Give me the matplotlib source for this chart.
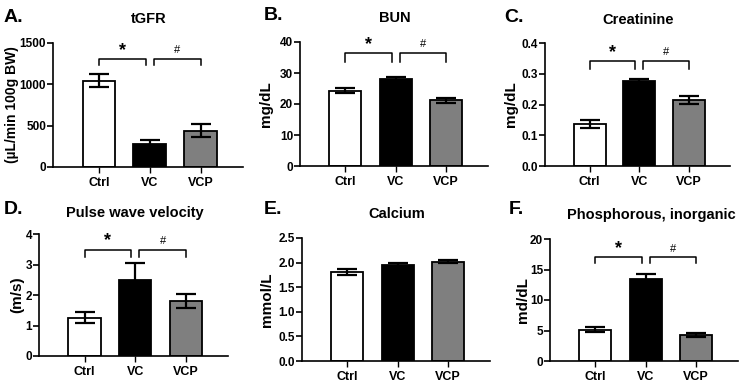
import numpy as np
import matplotlib
matplotlib.use("Agg")
import matplotlib.pyplot as plt

plt.rcParams["font.family"] = ["Liberation Sans", "DejaVu Sans"]
plt.rcParams["font.weight"] = "bold"

groups = ["Ctrl", "VC", "VCP"]
bar_colors = ["white", "black", "#7f7f7f"]

tgfr_mean = [1045, 275, 440]
tgfr_err = [75, 50, 80]
bun_mean = [24.3, 28.0, 21.2]
bun_err = [0.8, 0.8, 0.8]
creat_mean = [0.135, 0.275, 0.215]
creat_err = [0.013, 0.007, 0.013]
pwv_mean = [1.25, 2.5, 1.8]
pwv_err = [0.18, 0.55, 0.23]
calc_mean = [1.80, 1.95, 2.02]
calc_err = [0.06, 0.05, 0.03]
phos_mean = [5.1, 13.4, 4.3]
phos_err = [0.4, 0.9, 0.35]

W, H = 742, 384
fig = plt.figure(figsize=(W / 100, H / 100), dpi=100)


def px_axes(left, right, top, bottom):
    return fig.add_axes([left / W, 1 - bottom / H, (right - left) / W, (bottom - top) / H])


def panel(box, mean, err, ylim, yticks, ylabel, label_x, letter, letter_xy, title, title_xy,
          brackets=None, fmt="{:g}", label_size=11):
    ax = px_axes(*box)
    x = np.arange(len(groups))
    ax.bar(x, mean, width=0.64, color=bar_colors, edgecolor="black", linewidth=1.3, zorder=2)
    ax.errorbar(x, mean, yerr=err, fmt="none", ecolor="black", elinewidth=1.6,
                capsize=7, capthick=1.6, zorder=3)
    ax.set_xlim(-0.9, 2.83)
    ax.set_ylim(*ylim)
    ax.set_yticks(yticks)
    ax.set_yticklabels([fmt.format(t) for t in yticks])
    ax.set_xticks(x)
    ax.set_xticklabels(groups)
    for s in ["top", "right"]:
        ax.spines[s].set_visible(False)
    for s in ["left", "bottom"]:
        ax.spines[s].set_linewidth(1.2)
    ax.tick_params(axis="y", length=4, width=1.2, labelsize=8.5, pad=1)
    ax.tick_params(axis="x", length=4, width=1.0, labelsize=9, pad=3)
    for t in ax.get_xticklabels() + ax.get_yticklabels():
        t.set_fontweight("bold")
    ax.set_ylabel(ylabel, fontsize=label_size, fontweight="bold")
    # label_x is the centre of the rotated label; anchor is its right edge
    ax.yaxis.set_label_coords((label_x + 7 - box[0]) / (box[1] - box[0]), 0.5)
    fig.text(letter_xy[0] / W, 1 - letter_xy[1] / H, letter, fontsize=14, fontweight="bold",
             ha="left", va="center")
    fig.text(title_xy[0] / W, 1 - title_xy[1] / H, title, fontsize=10.5, fontweight="bold",
             ha="center", va="center")
    if brackets:
        top, drop = brackets
        for (x0, x1, sym) in [(0.0, 0.92, "*"), (1.08, 2.0, "#")]:
            ax.plot([x0, x0, x1, x1], [drop, top, top, drop], color="black", lw=1.1,
                    clip_on=False, zorder=4)
            if sym == "*":
                ax.text((x0 + x1) / 2, top, "*", ha="center", va="bottom", fontsize=13,
                        fontweight="bold")
            else:
                ax.text((x0 + x1) / 2, top + (ylim[1] - ylim[0]) * 0.03, "#", ha="center",
                        va="bottom", fontsize=8, fontweight="normal")
    return ax


panel((53, 243, 43, 167), tgfr_mean, tgfr_err, (0, 1500), [0, 500, 1000, 1500],
      "(\u00b5L/min 100g BW)", 12, "A.", (4, 17), "tGFR", (149, 19), brackets=(1310, 1230),
      label_size=10)
panel((300, 488, 42, 166), bun_mean, bun_err, (0, 40), [0, 10, 20, 30, 40],
      "mg/dL", 266, "B.", (264, 16), "BUN", (395, 18), brackets=(36.4, 33.7))
panel((545, 730, 43, 166), creat_mean, creat_err, (0, 0.4), [0, 0.1, 0.2, 0.3, 0.4],
      "mg/dL", 511, "C.", (504, 17), "Creatinine", (638, 20), brackets=(0.342, 0.316),
      fmt="{:.1f}")
panel((39, 228, 234, 356), pwv_mean, pwv_err, (0, 4), [0, 1, 2, 3, 4],
      "(m/s)", 17, "D.", (4, 210), "Pulse wave velocity", (135, 213), brackets=(3.49, 3.24))
panel((302, 490, 238, 361), calc_mean, calc_err, (0, 2.5), [0, 0.5, 1.0, 1.5, 2.0, 2.5],
      "mmol/L", 267, "E.", (264, 210), "Calcium", (397, 214), fmt="{:.1f}")
panel((550, 738, 239, 361), phos_mean, phos_err, (0, 20), [0, 5, 10, 15, 20],
      "md/dL", 523, "F.", (509, 210), "Phosphorous, inorganic", (651, 215),
      brackets=(17.0, 16.0))

fig.savefig("out.png", dpi=100)
